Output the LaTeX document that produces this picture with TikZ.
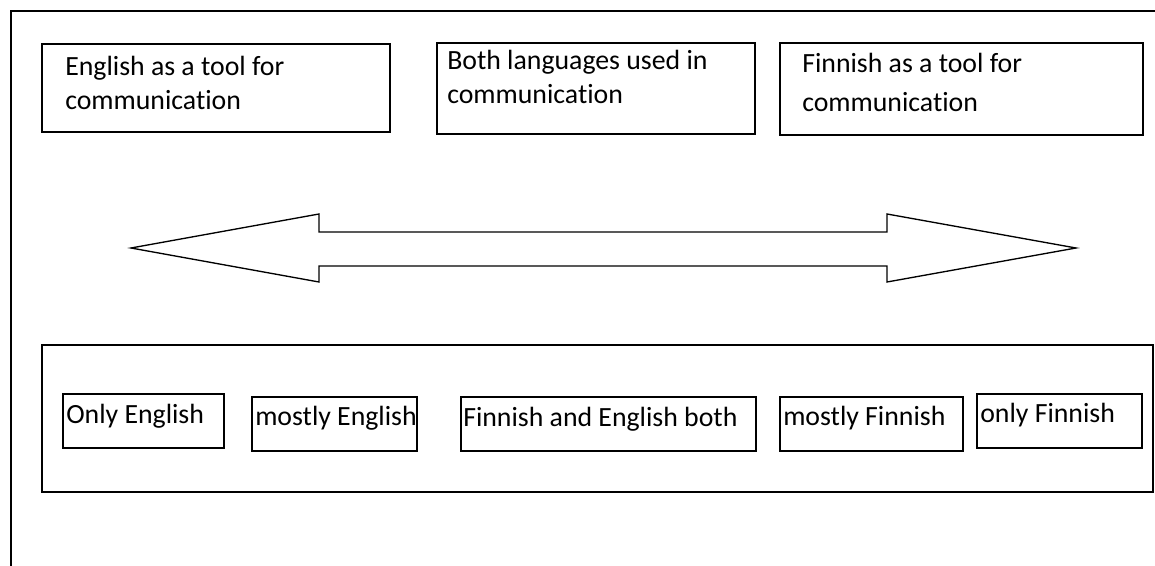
\documentclass[tikz,border=0pt]{standalone}
\usepackage{fontspec}
\setmainfont{Carlito}[Ligatures=NoCommon]
\usetikzlibrary{fit}
\newcommand{\twolines}[3]{\vtop{\baselineskip=#1\hbox{#2}\hbox{#3}}}
\begin{document}
\begin{tikzpicture}[x=0.75pt,y=-0.75pt,
  frame/.style={line width=1pt},
  box/.style={draw,line width=1pt,inner sep=0pt,fit={#1}},
  lbl/.style={inner sep=0pt,anchor=base west,font=\fontsize{20.85}{25}\selectfont}]
\useasboundingbox (0,0) rectangle (1155,566);
% outer frame (top and left only)
\coordinate (ftr) at (1155,11);
\coordinate (ftl) at (11,11);
\coordinate (fbl) at (11,566);
\draw[frame] (ftr) -- (ftl) -- (fbl);
% top boxes
\node[box={(42,44)(390,132)}] (b1) {};
\node[box={(437,43)(755,134)}] (b2) {};
\node[box={(780,43)(1143,135)}] (b3) {};
\node[lbl] (t1) at (65,76) {\twolines{25.5pt}{English as a tool for}{communication}};
\node[lbl] (t2) at (447,70) {\twolines{25pt}{Both languages used in}{communication}};
\node[lbl] (t3) at (802,73) {\twolines{29pt}{Finnish as a tool for}{communication}};
% double arrow
\draw[line width=1pt,line join=miter]
  (131,248) -- (319,214) -- (319,232) -- (887,232) -- (887,214) -- (1076,248)
  -- (887,282) -- (887,266) -- (319,266) -- (319,282) -- cycle;
% bottom big box
\node[box={(42,345)(1153,492)}] (big) {};
\node[box={(63,394)(224,448)}] (c1) {};
\node[box={(252,397)(417,451)}] (c2) {};
\node[box={(461,397)(756,451)}] (c3) {};
\node[box={(780,397)(963,451)}] (c4) {};
\node[box={(977,394)(1142,448)}] (c5) {};
\node[lbl] (u1) at (66,423) {Only English};
\node[lbl] (u2) at (255,425) {mostly English};
\node[lbl] (u3) at (463,426) {Finnish and English both};
\node[lbl] (u4) at (783,425) {mostly Finnish};
\node[lbl] (u5) at (980,422) {only Finnish};
\end{tikzpicture}
\end{document}
